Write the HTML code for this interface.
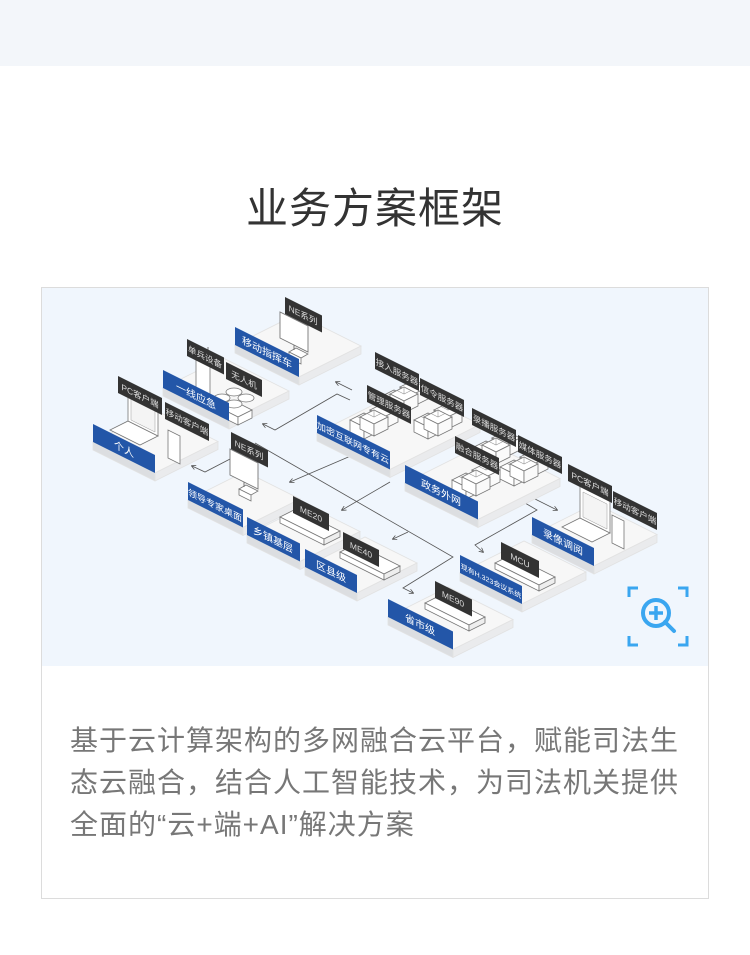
<!DOCTYPE html>
<html><head><meta charset="utf-8"><style>
*{margin:0;padding:0;box-sizing:border-box}
body{width:750px;height:955px;background:#fff;font-family:"Liberation Sans","Noto Sans CJK SC",sans-serif;position:relative;overflow:hidden}
.top{position:absolute;left:0;top:0;width:750px;height:66px;background:#f3f6fa}
h1{position:absolute;left:0;top:175px;width:750px;text-align:center;font-size:42px;font-weight:normal;color:#333;letter-spacing:1px}
.card{position:absolute;left:41px;top:287px;width:668px;height:612px;border:1px solid #dcdcdc;background:#fff}
.img{position:absolute;left:0;top:0;width:666px;height:378px;background:#f0f6fd}
.txt{position:absolute;left:28px;top:432px;width:614px;font-size:28px;letter-spacing:1px;line-height:42px;color:#777}
svg{position:absolute;left:0;top:0}
</style></head><body>
<div class="top"></div>
<h1>业务方案框架</h1>
<div class="card"><div class="img"></div>
<div class="txt">基于云计算架构的多网融合云平台，赋能司法生态云融合，结合人工智能技术，为司法机关提供全面的“云+端+AI”解决方案</div></div>
<svg width="750" height="955" viewBox="0 0 750 955" font-family="Liberation Sans, Noto Sans CJK SC, sans-serif">
<defs>
<marker id="ar" markerWidth="6" markerHeight="6" refX="5" refY="3" orient="auto"><path d="M0,0 L6,3 L0,6" fill="none" stroke="#555" stroke-width="1"/></marker>
<g id="box"><polygon points="0,0 14,-7 28,0 14,7" fill="#fff" stroke="#777" stroke-width=".8"/><polygon points="0,0 14,7 14,19 0,12" fill="#fff" stroke="#777" stroke-width=".8"/><polygon points="14,7 28,0 28,12 14,19" fill="#fafafa" stroke="#777" stroke-width=".8"/><path d="M7,-3.5 14,0 21,-3.5 M14,-7 14,0" stroke="#999" stroke-width=".6" fill="none"/></g>
<g id="srv"><use href="#box"/><use href="#box" x="20" y="-10"/><use href="#box" x="10" y="-3"/></g>
<g id="bar"><polygon points="0,0 44,22 60,14 16,-8" fill="#fff" stroke="#777" stroke-width=".8"/><polygon points="0,0 44,22 44,28 0,6" fill="#fff" stroke="#777" stroke-width=".8"/><polygon points="44,22 60,14 60,20 44,28" fill="#eee" stroke="#777" stroke-width=".8"/></g>
<g id="lap"><polygon points="0,0 30,15 48,6 18,-9" fill="#fff" stroke="#777" stroke-width=".8"/><polygon points="18,-9 48,6 48,-26 18,-41" fill="#fff" stroke="#777" stroke-width=".8"/><polygon points="21,-10 45,2 45,-23 21,-35" fill="#f4f4f4" stroke="#999" stroke-width=".5"/></g>
<g id="ph"><polygon points="0,0 12,6 12,-22 0,-28" fill="#fff" stroke="#777" stroke-width=".8"/></g>
<g id="mon"><polygon points="0,0 28,14 28,-12 0,-26" fill="#fff" stroke="#777" stroke-width=".9"/><polygon points="9,14 21,20 28,16 16,10" fill="#fff" stroke="#777" stroke-width=".8"/><polygon points="9,14 21,20 21,26 9,20" fill="#fff" stroke="#777" stroke-width=".8"/><line x1="14" y1="7" x2="14" y2="12" stroke="#777"/></g>
</defs>
<g stroke="#555" stroke-width=".8" fill="none">
<polyline points="350,400 337,394 275,430 263,424" marker-end="url(#ar)"/>
<polyline points="352,390 336,382" marker-end="url(#ar)"/>
<polyline points="232,458 205,472 192,466" marker-end="url(#ar)"/>
<polyline points="255,443 453,557 403,588 413,593" marker-end="url(#ar)"/>
<polyline points="360,452 290,482" marker-end="url(#ar)"/>
<polyline points="390,482 342,510" marker-end="url(#ar)"/>
<polyline points="408,532 393,539" marker-end="url(#ar)"/>
<polyline points="535,499 557,510" marker-end="url(#ar)"/>
<polyline points="525,503 537,510 475,545 483,552" marker-end="url(#ar)"/>
</g>
<g stroke="#e2e2e2" stroke-width=".8">
<g transform="translate(235,345)"><polygon points="0,0 64,32 126,1 62,-31" fill="#f7f7f7"/><polygon points="0,0 64,32 64,40 0,8" fill="#dcdee1"/><polygon points="64,32 126,1 126,9 64,40" fill="#eaebed"/></g>
<g transform="translate(317,433)"><polygon points="0,0 73,36.5 163,-8.5 90,-45" fill="#f7f7f7"/><polygon points="0,0 73,36.5 73,44.5 0,8" fill="#dcdee1"/><polygon points="73,36.5 163,-8.5 163,-0.5 73,44.5" fill="#eaebed"/></g>
<g transform="translate(163,388)"><polygon points="0,0 66,33 126,3 60,-30" fill="#f7f7f7"/><polygon points="0,0 66,33 66,41 0,8" fill="#dcdee1"/><polygon points="66,33 126,3 126,11 66,41" fill="#eaebed"/></g>
<g transform="translate(405,483)"><polygon points="0,0 73,36.5 155,-4.5 82,-41" fill="#f7f7f7"/><polygon points="0,0 73,36.5 73,44.5 0,8" fill="#dcdee1"/><polygon points="73,36.5 155,-4.5 155,3.5 73,44.5" fill="#eaebed"/></g>
<g transform="translate(93,442)"><polygon points="0,0 62,31 125,-0.5 63,-31.5" fill="#f7f7f7"/><polygon points="0,0 62,31 62,39 0,8" fill="#dcdee1"/><polygon points="62,31 125,-0.5 125,7.5 62,39" fill="#eaebed"/></g>
<g transform="translate(532,535)"><polygon points="0,0 62,31 125,-0.5 63,-31.5" fill="#f7f7f7"/><polygon points="0,0 62,31 62,39 0,8" fill="#dcdee1"/><polygon points="62,31 125,-0.5 125,7.5 62,39" fill="#eaebed"/></g>
<g transform="translate(188,500)"><polygon points="0,0 55,27.5 112,-1 57,-28.5" fill="#f7f7f7"/><polygon points="0,0 55,27.5 55,35.5 0,8" fill="#dcdee1"/><polygon points="55,27.5 112,-1 112,7 55,35.5" fill="#eaebed"/></g>
<g transform="translate(460,573)"><polygon points="0,0 62,31 126,-1 64,-32" fill="#f7f7f7"/><polygon points="0,0 62,31 62,39 0,8" fill="#dcdee1"/><polygon points="62,31 126,-1 126,7 62,39" fill="#eaebed"/></g>
<g transform="translate(247,535)"><polygon points="0,0 53,26.5 113,-3.5 60,-30" fill="#f7f7f7"/><polygon points="0,0 53,26.5 53,34.5 0,8" fill="#dcdee1"/><polygon points="53,26.5 113,-3.5 113,4.5 53,34.5" fill="#eaebed"/></g>
<g transform="translate(305,567)"><polygon points="0,0 52,26 112,-4 60,-30" fill="#f7f7f7"/><polygon points="0,0 52,26 52,34 0,8" fill="#dcdee1"/><polygon points="52,26 112,-4 112,4 52,34" fill="#eaebed"/></g>
<g transform="translate(388,617)"><polygon points="0,0 65,32.5 125,2.5 60,-30" fill="#f7f7f7"/><polygon points="0,0 65,32.5 65,40.5 0,8" fill="#dcdee1"/><polygon points="65,32.5 125,2.5 125,10.5 65,40.5" fill="#eaebed"/></g>
</g>
<use href="#mon" x="280" y="338"/>
<use href="#mon" x="230" y="475"/>
<g transform="translate(196,395)"><polygon points="0,0 14,7 14,-30 0,-37" fill="#fff" stroke="#777" stroke-width=".8"/><line x1="12" y1="-36" x2="12" y2="-48" stroke="#777"/></g>
<g fill="#fff" stroke="#777" stroke-width=".8"><polygon points="220,408 238,417 252,410 234,401"/><polygon points="220,408 238,417 238,425 220,416"/><polygon points="238,417 252,410 252,418 238,425"/><ellipse cx="222" cy="398" rx="8" ry="4"/><ellipse cx="246" cy="398" rx="8" ry="4"/><ellipse cx="234" cy="392" rx="8" ry="4"/><ellipse cx="234" cy="404" rx="8" ry="4"/></g>
<use href="#lap" x="110" y="430"/>
<use href="#ph" x="168" y="458"/>
<use href="#lap" x="562" y="527"/>
<use href="#ph" x="612" y="543"/>
<use href="#srv" x="380" y="397"/>
<use href="#srv" x="414" y="420"/>
<use href="#srv" x="350" y="420"/>
<use href="#srv" x="472" y="448"/>
<use href="#srv" x="500" y="467"/>
<use href="#srv" x="452" y="480"/>
<use href="#bar" x="280" y="517"/>
<use href="#bar" x="340" y="552"/>
<use href="#bar" x="425" y="603"/>
<use href="#bar" x="495" y="563"/>
<g fill="#fff" font-size="10" text-anchor="middle">
<g transform="translate(93,442) matrix(1,.5,0,1,0,0)"><rect y="-18" width="62" height="18" fill="#2356a8"/><text x="31" y="-5">个人</text></g>
<g transform="translate(163,388) matrix(1,.5,0,1,0,0)"><rect y="-18" width="66" height="18" fill="#2356a8"/><text x="33" y="-5">一线应急</text></g>
<g transform="translate(235,345) matrix(1,.5,0,1,0,0)"><rect y="-18" width="64" height="18" fill="#2356a8"/><text x="32" y="-5">移动指挥车</text></g>
<g transform="translate(317,433) matrix(1,.5,0,1,0,0)"><rect y="-18" width="73" height="18" fill="#2356a8"/><text x="36" y="-5" font-size="9">加密互联网专有云</text></g>
<g transform="translate(405,483) matrix(1,.5,0,1,0,0)"><rect y="-18" width="73" height="18" fill="#2356a8"/><text x="36" y="-5">政务外网</text></g>
<g transform="translate(532,535) matrix(1,.5,0,1,0,0)"><rect y="-18" width="62" height="18" fill="#2356a8"/><text x="31" y="-5">录像调阅</text></g>
<g transform="translate(188,500) matrix(1,.5,0,1,0,0)"><rect y="-18" width="55" height="18" fill="#2356a8"/><text x="27" y="-5" font-size="9">领导专家桌面</text></g>
<g transform="translate(247,535) matrix(1,.5,0,1,0,0)"><rect y="-18" width="53" height="18" fill="#2356a8"/><text x="26" y="-5">乡镇基层</text></g>
<g transform="translate(305,567) matrix(1,.5,0,1,0,0)"><rect y="-18" width="52" height="18" fill="#2356a8"/><text x="26" y="-5">区县级</text></g>
<g transform="translate(388,617) matrix(1,.5,0,1,0,0)"><rect y="-18" width="65" height="18" fill="#2356a8"/><text x="32" y="-5">省市级</text></g>
<g transform="translate(460,573) matrix(1,.5,0,1,0,0)"><rect y="-18" width="62" height="18" fill="#2356a8"/><text x="31" y="-5" font-size="7">现有H.323会议系统</text></g>
</g>
<g fill="#ddd" font-size="8.5" text-anchor="middle">
<g transform="translate(285,297) matrix(1,.5,0,1,0,0)"><rect width="37" height="17" fill="#333"/><text x="18" y="12">NE系列</text></g>
<g transform="translate(187,339) matrix(1,.5,0,1,0,0)"><rect width="37" height="17" fill="#333"/><text x="18" y="12">单兵设备</text></g>
<g transform="translate(226,362) matrix(1,.5,0,1,0,0)"><rect width="36" height="17" fill="#333"/><text x="18" y="12">无人机</text></g>
<g transform="translate(118,376) matrix(1,.5,0,1,0,0)"><rect width="44" height="17" fill="#333"/><text x="22" y="12">PC客户端</text></g>
<g transform="translate(165,402) matrix(1,.5,0,1,0,0)"><rect width="44" height="17" fill="#333"/><text x="22" y="12">移动客户端</text></g>
<g transform="translate(231,432) matrix(1,.5,0,1,0,0)"><rect width="37" height="17" fill="#333"/><text x="18" y="12">NE系列</text></g>
<g transform="translate(293,496) matrix(1,.5,0,1,0,0)"><rect width="36" height="17" fill="#333"/><text x="18" y="12">ME20</text></g>
<g transform="translate(343,532) matrix(1,.5,0,1,0,0)"><rect width="36" height="17" fill="#333"/><text x="18" y="12">ME40</text></g>
<g transform="translate(435,581) matrix(1,.5,0,1,0,0)"><rect width="37" height="17" fill="#333"/><text x="18" y="12">ME90</text></g>
<g transform="translate(501,542) matrix(1,.5,0,1,0,0)"><rect width="38" height="17" fill="#333"/><text x="19" y="12">MCU</text></g>
<g transform="translate(375,352) matrix(1,.5,0,1,0,0)"><rect width="44" height="17" fill="#333"/><text x="22" y="12">接入服务器</text></g>
<g transform="translate(420,378) matrix(1,.5,0,1,0,0)"><rect width="44" height="17" fill="#333"/><text x="22" y="12">信令服务器</text></g>
<g transform="translate(367,385) matrix(1,.5,0,1,0,0)"><rect width="44" height="17" fill="#333"/><text x="22" y="12">管理服务器</text></g>
<g transform="translate(472,408) matrix(1,.5,0,1,0,0)"><rect width="44" height="17" fill="#333"/><text x="22" y="12">录播服务器</text></g>
<g transform="translate(518,435) matrix(1,.5,0,1,0,0)"><rect width="44" height="17" fill="#333"/><text x="22" y="12">媒体服务器</text></g>
<g transform="translate(455,436) matrix(1,.5,0,1,0,0)"><rect width="44" height="17" fill="#333"/><text x="22" y="12">融合服务器</text></g>
<g transform="translate(568,464) matrix(1,.5,0,1,0,0)"><rect width="44" height="17" fill="#333"/><text x="22" y="12">PC客户端</text></g>
<g transform="translate(613,491) matrix(1,.5,0,1,0,0)"><rect width="44" height="17" fill="#333"/><text x="22" y="12">移动客户端</text></g>
</g>
<g stroke="#3aa6f0" stroke-width="3" fill="none">
<path d="M629,597 V588 H638 M678,588 H687 V597 M629,636 V645 H638 M678,645 H687 V636"/>
<circle cx="656" cy="613" r="13" stroke-width="4"/>
<path d="M665,622 L674,631" stroke-width="4" stroke-linecap="round"/>
<path d="M656,606 V620 M649,613 H663" stroke-width="3.5"/>
</g>
</svg>
</body></html>
